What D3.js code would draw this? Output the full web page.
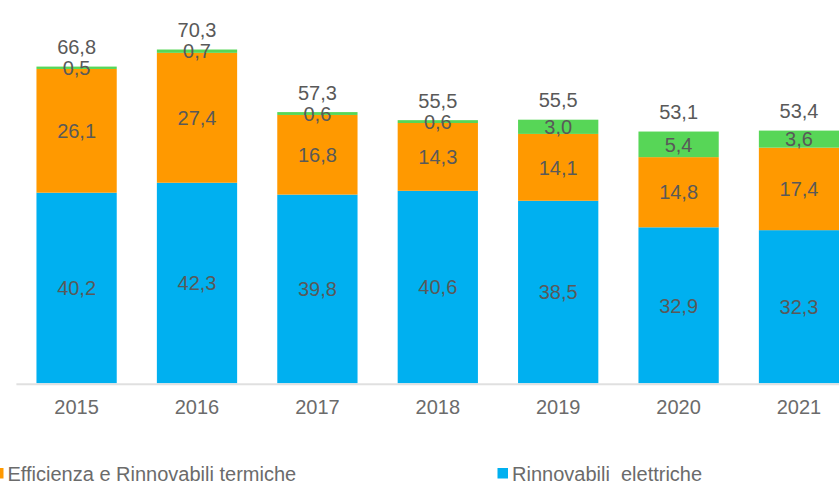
<!DOCTYPE html>
<html>
<head>
    <meta charset="utf-8" />
    <script src="https://cdn.jsdelivr.net/npm/d3@7/dist/d3.min.js"></script>
    <style>
        body { margin: 0; background: #fff; }
        text { font-family: "Liberation Sans", Arial, sans-serif; }
    </style>
</head>
<body>
<script>
    var years = ["2015", "2016", "2017", "2018", "2019", "2020", "2021"];
    var elettriche = [40.2, 42.3, 39.8, 40.6, 38.5, 32.9, 32.3];
    var termiche = [26.1, 27.4, 16.8, 14.3, 14.1, 14.8, 17.4];
    var terza = [0.5, 0.7, 0.6, 0.6, 3.0, 5.4, 3.6];
    var totali = [66.8, 70.3, 57.3, 55.5, 55.5, 53.1, 53.4];
    var legendNames = ["Efficienza e Rinnovabili termiche", "Rinnovabili  elettriche"];

    var width = 839, height = 484;
    var colors = ["#00B0F0", "#FF9900", "#57D657"];

    var rows = years.map(function (y, i) {
        return { year: y, el: elettriche[i], te: termiche[i], ter: terza[i], tot: totali[i] };
    });
    var keys = ["el", "te", "ter"];

    var fmt = d3.formatLocale({ decimal: ",", thousands: ".", grouping: [3], currency: ["", "€"] }).format(".1f");

    var x = d3.scaleBand()
        .domain(years)
        .range([16.4, 859.2])
        .paddingInner(1 / 3)
        .paddingOuter(1 / 6);

    var y = d3.scaleLinear()
        .domain([0, 80])
        .range([383.3, 4]);

    var svg = d3.select("body").append("svg")
        .attr("width", width)
        .attr("height", height);

    var stack = d3.stack().keys(keys)(rows);

    var layer = svg.selectAll("g.layer")
        .data(stack)
        .enter().append("g")
        .attr("class", "layer")
        .attr("fill", function (d, i) { return colors[i]; });

    layer.selectAll("rect")
        .data(function (d) { return d; })
        .enter().append("rect")
        .attr("x", function (d) { return x(d.data.year); })
        .attr("width", x.bandwidth())
        .attr("y", function (d) { return y(d[1]); })
        .attr("height", function (d) { return y(d[0]) - y(d[1]); });

    // etichette dei segmenti
    layer.selectAll("text")
        .data(function (d) { return d.map(function (p) { p.key = d.key; return p; }); })
        .enter().append("text")
        .attr("x", function (d) { return x(d.data.year) + x.bandwidth() / 2; })
        .attr("y", function (d) { return (y(d[0]) + y(d[1])) / 2; })
        .attr("dy", "0.36em")
        .attr("text-anchor", "middle")
        .attr("font-size", "20px")
        .attr("fill", "#595959")
        .text(function (d) { return fmt(d.data[d.key]); });

    // totali sopra le barre
    svg.selectAll("text.tot")
        .data(rows)
        .enter().append("text")
        .attr("class", "tot")
        .attr("x", function (d) { return x(d.year) + x.bandwidth() / 2; })
        .attr("y", function (d) { return y(d3.sum(keys, function (k) { return d[k]; })) - 12.5; })
        .attr("text-anchor", "middle")
        .attr("font-size", "20px")
        .attr("fill", "#595959")
        .text(function (d) { return fmt(d.tot); });

    // asse x
    var axis = svg.append("g")
        .attr("transform", "translate(0," + y(0) + ")")
        .call(d3.axisBottom(x).tickSize(0).tickPadding(0));
    axis.select(".domain").attr("stroke", "#E0E0E0").attr("stroke-width", 2)
        .attr("d", "M16.4,1H" + width);
    axis.selectAll(".tick text")
        .attr("y", 31)
        .attr("dy", 0)
        .attr("font-size", "20px")
        .attr("font-family", "'Liberation Sans', Arial, sans-serif")
        .attr("fill", "#6b6b6b");

    // legenda
    var legend = svg.append("g");
    var legendX = [-7, 497.5];
    var legendCol = [colors[1], colors[0]];
    legendNames.forEach(function (name, i) {
        legend.append("rect")
            .attr("x", legendX[i])
            .attr("y", 468)
            .attr("width", 10.5)
            .attr("height", 10.5)
            .attr("fill", legendCol[i]);
        legend.append("text")
            .attr("x", legendX[i] + 14.5)
            .attr("y", 480.5)
            .attr("font-size", "20px")
            .attr("fill", "#6b6b6b")
            .style("white-space", "pre")
            .text(name);
    });
</script>
</body>
</html>
